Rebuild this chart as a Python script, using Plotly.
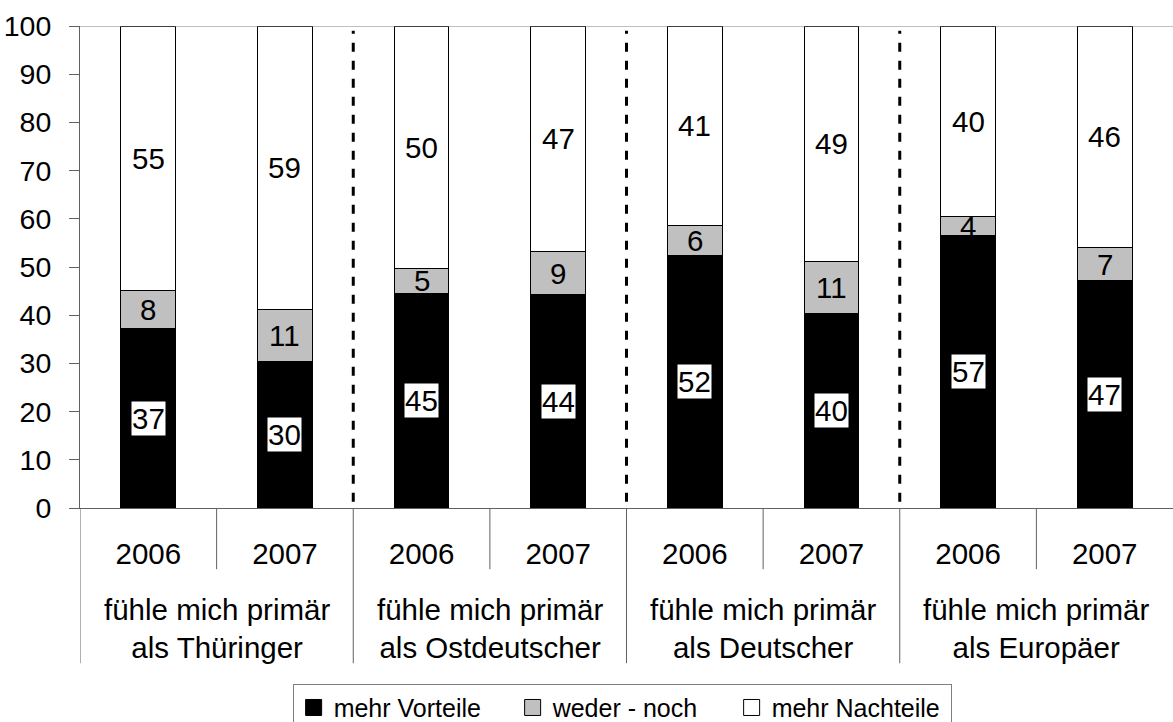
import plotly.graph_objects as go

years = ["2006", "2007", "2006", "2007", "2006", "2007", "2006", "2007"]
groups = ["fühle mich primär<br>als Thüringer", "fühle mich primär<br>als Ostdeutscher",
          "fühle mich primär<br>als Deutscher", "fühle mich primär<br>als Europäer"]
series_names = ["mehr Vorteile", "weder - noch", "mehr Nachteile"]
vorteile = [37.2, 30.3, 44.6, 44.3, 52.4, 40.3, 56.6, 47.1]
weder = [8.0, 10.8, 5.0, 8.9, 6.2, 10.8, 3.8, 6.9]
nachteile = [54.8, 58.9, 50.4, 46.8, 41.4, 48.9, 39.6, 46.0]
colors = ["#000000", "#C0C0C0", "#FFFFFF"]

FONT = "Liberation Sans, Arial, sans-serif"
FS = 29.5
xs = list(range(len(years)))

fig = go.Figure()
for name, vals, col in zip(series_names, [vorteile, weder, nachteile], colors):
    fig.add_trace(go.Bar(x=xs, y=vals, name=name, marker=dict(color=col, line=dict(color="#000000", width=1)),
                         showlegend=False, hoverinfo="skip"))
for name, col in zip(series_names, colors):
    fig.add_trace(go.Scatter(x=[None], y=[None], mode="markers", name=name,
                             marker=dict(symbol="square", size=18, color=col, line=dict(color="#000000", width=1))))

annotations = []
for i in xs:
    base = 0.0
    for k, vals in enumerate([vorteile, weder, nachteile]):
        mid = base + vals[i] / 2
        annotations.append(dict(x=i, y=mid, xref="x", yref="y", text=f"{vals[i]:.0f}", showarrow=False,
                                font=dict(family=FONT, size=FS, color="#000"),
                                bgcolor="#FFFFFF" if k == 0 else "rgba(0,0,0,0)", borderpad=0,
                                xanchor="center", yanchor="middle"))
        base += vals[i]

for g, name in enumerate(groups):
    annotations.append(dict(x=2 * g + 0.5, y=-0.249, xref="x", yref="paper", text=name, showarrow=False,
                            font=dict(family=FONT, size=FS, color="#000"), xanchor="center", yanchor="middle"))

shapes = []
shapes.append(dict(type="line", xref="paper", yref="y", x0=0, x1=1, y0=100, y1=100,
                   line=dict(color="#808080", width=1)))
for xv in [1.5, 3.5, 5.5]:
    shapes.append(dict(type="line", xref="x", yref="y", x0=xv, x1=xv, y0=1.3, y1=99,
                       line=dict(color="#000000", width=3, dash="dash")))
for xv in [0.5, 2.5, 4.5, 6.5]:
    shapes.append(dict(type="line", xref="x", yref="paper", x0=xv, x1=xv, y0=0, y1=-0.127,
                       line=dict(color="#606060", width=1)))
for xv in [-0.5, 1.5, 3.5, 5.5]:
    shapes.append(dict(type="line", xref="x", yref="paper", x0=xv, x1=xv, y0=0, y1=-0.322,
                       line=dict(color="#606060", width=1)))

fig.update_layout(
    width=1173, height=722,
    margin=dict(l=80, r=0, t=26, b=214, autoexpand=False),
    paper_bgcolor="white", plot_bgcolor="white",
    barmode="stack", bargap=0.6,
    font=dict(family=FONT, size=FS, color="#000"),
    xaxis=dict(range=[-0.5, 7.5], tickvals=xs, ticktext=years, ticks="", showgrid=False,
               showline=True, linecolor="#606060", linewidth=1, zeroline=False, automargin=False,
               tickfont=dict(family=FONT, size=FS, color="#000"), ticklabelstandoff=20),
    yaxis=dict(range=[0, 100], tickvals=list(range(0, 101, 10)), ticks="outside", ticklen=10,
               tickcolor="#606060", showgrid=False, showline=True, linecolor="#606060", linewidth=1,
               zeroline=False, automargin=False, tickfont=dict(family=FONT, size=28.5, color="#000"),
               ticklabelstandoff=12),
    legend=dict(orientation="h", x=0.496, xanchor="center", yref="container", y=0.053, yanchor="top",
                bordercolor="#808080", borderwidth=1, bgcolor="white", traceorder="normal",
                font=dict(family=FONT, size=25, color="#000"), itemwidth=30, tracegroupgap=0,
                entrywidth=174, entrywidthmode="pixels"),
    annotations=annotations, shapes=shapes,
)

fig.write_html("out.html", post_script="document.body.style.margin='0';",
               config={"displayModeBar": False})
